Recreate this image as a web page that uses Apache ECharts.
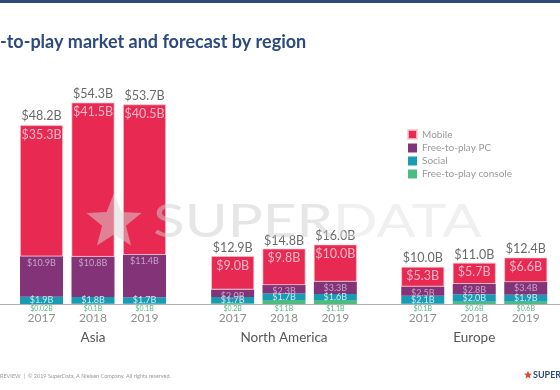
<!DOCTYPE html>
<html><head><meta charset="utf-8">
<script src="https://cdn.jsdelivr.net/npm/echarts@6/dist/echarts.min.js"></script>
<style>html,body{margin:0;padding:0;background:#fff}#c{width:560px;height:390px}</style>
</head><body><div id="c"></div>
<script>
const regions = ['Asia', 'North America', 'Europe'];
const years = ['2017', '2018', '2019'];
// order: Asia 2017-2019, North America 2017-2019, Europe 2017-2019
const mobile  = [35.3, 41.5, 40.5, 9.0, 9.8, 10.0, 5.3, 5.7, 6.6];
const freePC  = [10.9, 10.8, 11.4, 2.0, 2.3, 3.3, 2.5, 2.8, 3.4];
const social  = [1.9, 1.8, 1.7, 1.7, 1.7, 1.6, 2.1, 2.0, 1.9];
const consoleF2P = [0.02, 0.1, 0.1, 0.2, 1.1, 1.1, 0.1, 0.6, 0.6];
const totals  = [48.2, 54.3, 53.7, 12.9, 14.8, 16.0, 10.0, 11.0, 12.4];
const seriesNames = ['Mobile', 'Free-to-play PC', 'Social', 'Free-to-play console'];
const colors = ['#e82a53', '#833478', '#1a9bb4', '#4cbc83'];

const FONT = 'Lato';
const fmt = v => '$' + (v < 0.1 ? v.toFixed(2) : v.toFixed(1)) + 'B';

const gridBoxes = [{left: 15.75, width: 154.5}, {left: 207, width: 154}, {left: 397, width: 154.5}];
const grid = [], xAxis = [], yAxis = [], series = [];
gridBoxes.forEach((b, g) => {
  grid.push({left: b.left, width: b.width, top: 81, bottom: 86});
  xAxis.push({
    type: 'category', gridIndex: g, data: years,
    axisLine: {show: false}, axisTick: {show: false},
    axisLabel: {color: '#8f8f8f', fontSize: 12, fontFamily: FONT, margin: 8},
    name: regions[g], nameLocation: 'middle', nameGap: 27,
    nameTextStyle: {color: '#555', fontSize: 13.5, fontFamily: FONT}
  });
  yAxis.push({type: 'value', gridIndex: g, min: 0, max: 60, show: false});
  const sl = arr => arr.slice(g * 3, g * 3 + 3);
  const base = {type: 'bar', xAxisIndex: g, yAxisIndex: g, stack: 's' + g, barWidth: 43,
    itemStyle: {borderColor: 'rgba(255,255,255,0.35)', borderWidth: 0.6}};
  series.push(Object.assign({}, base, {
    name: seriesNames[3], data: sl(consoleF2P), itemStyle: {color: colors[3]},
    label: {show: true, position: 'bottom', distance: 1, color: '#4cbc83', fontSize: 7, fontFamily: FONT,
      formatter: p => fmt(p.value)}
  }));
  series.push(Object.assign({}, base, {
    name: seriesNames[2], data: sl(social), itemStyle: {color: colors[2]},
    label: {show: true, position: 'inside', color: '#cdeaf0', fontSize: 9, fontFamily: FONT,
      formatter: p => fmt(p.value)}
  }));
  series.push(Object.assign({}, base, {
    name: seriesNames[1], data: sl(freePC), itemStyle: {color: colors[1]},
    label: {show: true, position: 'insideTop', distance: 2, color: '#c8a2c6', fontSize: 9, fontFamily: FONT,
      formatter: p => fmt(p.value)}
  }));
  series.push(Object.assign({}, base, {
    name: seriesNames[0], data: sl(mobile),
    itemStyle: {color: colors[0], borderColor: 'rgba(255,200,210,0.8)', borderWidth: 0.8},
    label: {show: true, position: 'insideTop', distance: 3, color: '#f8b9c8', fontSize: 12.5, fontFamily: FONT,
      formatter: p => fmt(p.value)}
  }));
  series.push({
    type: 'scatter', name: 'Total', xAxisIndex: g, yAxisIndex: g, data: sl(totals),
    symbolSize: 0, silent: true,
    label: {show: true, position: 'top', distance: 2, color: '#444', fontSize: 12.5, fontFamily: FONT,
      formatter: p => fmt(p.value)}
  });
});
// full-width baseline axis
grid.push({left: 0, right: 0, top: 81, bottom: 86});
xAxis.push({type: 'value', gridIndex: 3, min: 0, max: 1,
  axisLine: {show: true, lineStyle: {color: '#b0b0b0', width: 1}}, axisTick: {show: false},
  axisLabel: {show: false}, splitLine: {show: false}});
yAxis.push({type: 'value', gridIndex: 3, show: false, min: 0, max: 1});

function starPoints(cx, cy, R, r) {
  const pts = [];
  for (let i = 0; i < 10; i++) {
    const a = -Math.PI / 2 + i * Math.PI / 5;
    const rad = i % 2 ? r : R;
    pts.push([cx + rad * Math.cos(a), cy + rad * Math.sin(a)]);
  }
  return pts;
}

const chart = echarts.init(document.getElementById('c'));
chart.setOption({
  backgroundColor: '#fff',
  animation: false,
  color: colors,
  legend: {
    data: seriesNames, orient: 'vertical', left: 407, top: 129, padding: 0,
    itemWidth: 9, itemHeight: 9, itemGap: 3, icon: 'rect',
    textStyle: {color: '#9a9a9a', fontSize: 10, fontFamily: FONT}
  },
  grid, xAxis, yAxis, series,
  graphic: [
    {type: 'rect', left: 0, top: 0, z: 100, shape: {width: 560, height: 3}, style: {fill: '#2d4a7f'}},
    {type: 'text', left: 0, top: 33, z: 100,
      style: {text: '-to-play market and forecast by region', fill: '#2d4a7f',
        font: 'bold 18px Lato'}},
    {type: 'polygon', z: 100, silent: true, shape: {points: starPoints(114, 222, 29, 12.5)},
      style: {fill: 'rgba(215,215,215,0.5)'}},
    {type: 'text', left: 153, top: 199, z: 100, scaleX: 1.27, silent: true,
      style: {text: '{a|SUPER}{b|DATA}', font: '46px Lato',
        rich: {a: {fill: 'rgba(205,205,205,0.5)', font: '46px Lato'},
               b: {fill: 'rgba(225,225,225,0.5)', font: '46px Lato'}}}},
    {type: 'text', left: 0, top: 373, z: 100,
      style: {text: 'REVIEW  |  © 2019 SuperData, A Nielsen Company. All rights reserved.',
        fill: '#9a9a9a', font: '5.5px Lato'}},
    {type: 'polygon', z: 100, shape: {points: starPoints(528, 375, 4.2, 1.9)}, style: {fill: '#e8452f'}},
    {type: 'text', left: 533, top: 371, z: 100,
      style: {text: 'SUPERDATA', fill: '#2d4a7f', font: 'bold 9px Lato'}}
  ]
});
</script></body></html>
